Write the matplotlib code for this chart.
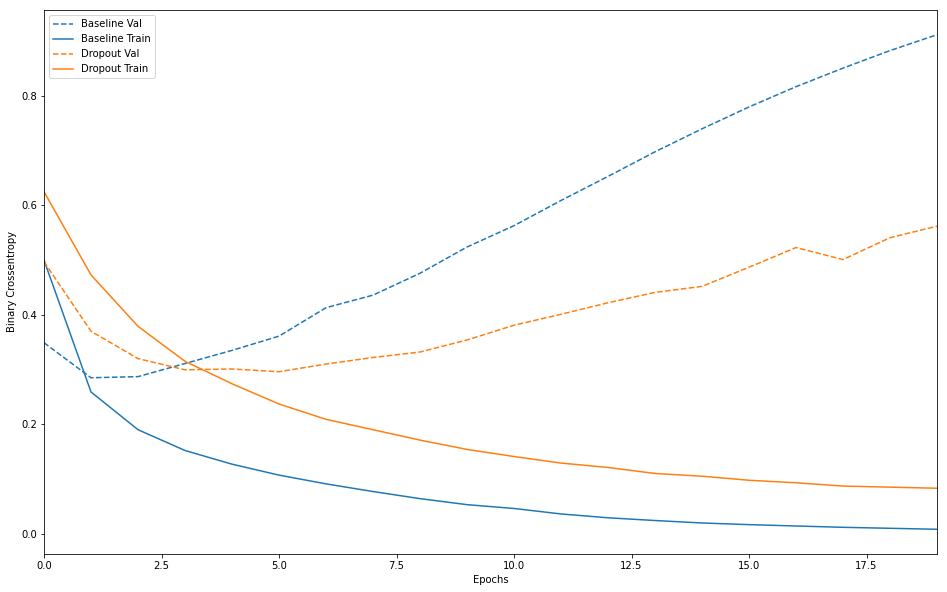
import matplotlib
matplotlib.use("Agg")
import matplotlib.pyplot as plt

epochs = list(range(20))

baseline_val = [0.349, 0.285, 0.287, 0.311, 0.335, 0.361, 0.413, 0.436, 0.476, 0.524,
                0.563, 0.609, 0.653, 0.698, 0.740, 0.780, 0.817, 0.851, 0.883, 0.912]
baseline_train = [0.500, 0.259, 0.190, 0.152, 0.127, 0.107, 0.091, 0.077, 0.064, 0.053,
                  0.046, 0.036, 0.029, 0.024, 0.0195, 0.0165, 0.014, 0.0116, 0.0098, 0.008]
dropout_val = [0.497, 0.370, 0.320, 0.2995, 0.301, 0.296, 0.310, 0.322, 0.332, 0.354,
               0.381, 0.401, 0.422, 0.441, 0.452, 0.487, 0.523, 0.501, 0.541, 0.562]
dropout_train = [0.625, 0.473, 0.379, 0.315, 0.274, 0.237, 0.209, 0.190, 0.171, 0.154,
                 0.141, 0.129, 0.121, 0.110, 0.105, 0.0976, 0.093, 0.087, 0.085, 0.083]

fig = plt.figure(figsize=(947 / 72, 592 / 72), dpi=72)
ax = fig.add_axes([44 / 947, 38 / 592, 893 / 947, 544 / 592])

histories = [("Baseline", baseline_train, baseline_val),
             ("Dropout", dropout_train, dropout_val)]
for name, train, val in histories:
    val_line = ax.plot(epochs, val, "--", label=name + " Val")
    ax.plot(epochs, train, color=val_line[0].get_color(), label=name + " Train")

ax.set_xlabel("Epochs")
ax.set_ylabel("Binary Crossentropy")
ax.legend(loc="upper left")
ax.set_xlim([0, max(epochs)])

fig.savefig("out.png", dpi=72)
